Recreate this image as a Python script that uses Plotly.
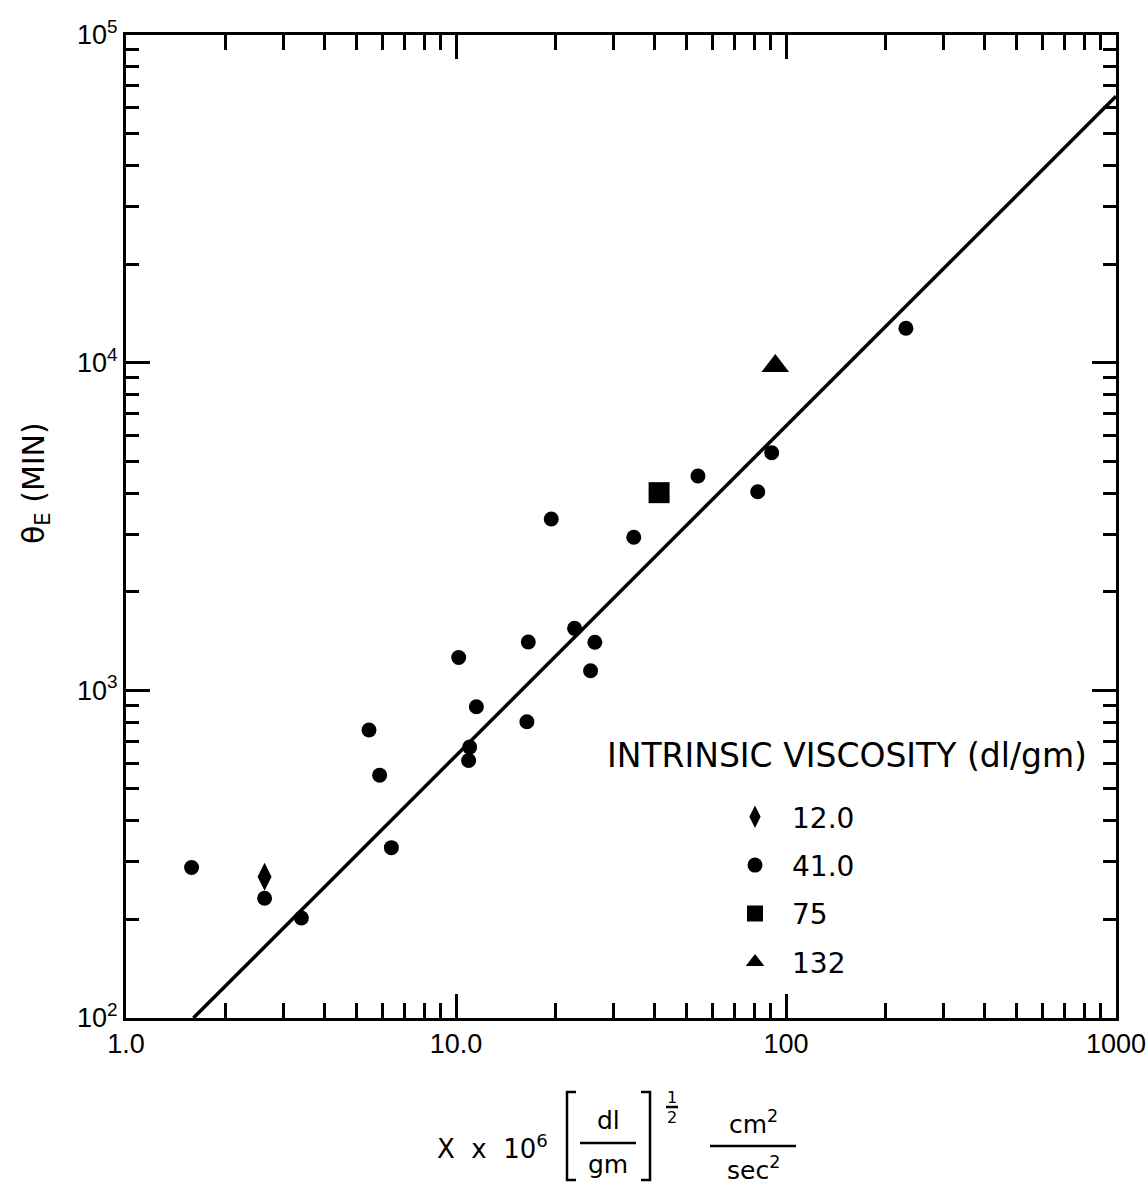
import plotly.graph_objects as go

# ---------------- data ----------------
diamond_x = [2.63]
diamond_y = [270]

circle_x = [1.58, 2.63, 3.40, 5.45, 5.87, 6.37, 10.19, 10.92, 11.0, 11.53, 16.4,
            16.56, 19.44, 22.87, 25.57, 26.35, 34.57, 54.1, 82.1, 90.5, 230.9]
circle_y = [288, 232, 202, 757, 551, 331, 1260, 611, 671, 891, 802,
            1404, 3334, 1546, 1148, 1402, 2932, 4510, 4038, 5312, 12730]

square_x = [41.25]
square_y = [4011]

triangle_x = [92.8]
triangle_y = [9767]

fit_x = [1.6, 1000]
fit_y = [100, 65000]

legend_names = ["12.0", "41.0", "75", "132"]
legend_title = "INTRINSIC VISCOSITY (dl/gm)"

x_tickvals = [1, 10, 100, 1000]
x_ticktext = ["1.0", "10.0", "100", "1000"]
y_tickvals = [100, 1000, 10000, 100000]
y_ticktext = ["10<sup>2</sup>", "10<sup>3</sup>", "10<sup>4</sup>", "10<sup>5</sup>"]
minor_x = [m * 10 ** d for d in range(0, 3) for m in range(2, 10)]
minor_y = [m * 10 ** d for d in range(2, 5) for m in range(2, 10)]

# ---------------- layout helpers ----------------
W, H = 1146, 1185
L, R, T, B = 126, 1116, 35, 1018
FONT = "DejaVu Sans"
TICKFONT = "Liberation Sans"


def px(x):
    return (x - L) / (R - L)


def py(y):
    return (B - y) / (B - T)


fig = go.Figure()

fig.add_trace(go.Scatter(x=fit_x, y=fit_y, mode="lines",
                         line=dict(color="black", width=3.5), showlegend=False))
fig.add_trace(go.Scatter(x=diamond_x, y=diamond_y, mode="markers", name=legend_names[0],
                         legendgroup="a",
                         marker=dict(symbol="diamond-tall", size=20, color="black")))
fig.add_trace(go.Scatter(x=circle_x, y=circle_y, mode="markers", name=legend_names[1],
                         legendgroup="b",
                         marker=dict(symbol="circle", size=15, color="black")))
fig.add_trace(go.Scatter(x=square_x, y=square_y, mode="markers", name=legend_names[2],
                         legendgroup="c",
                         marker=dict(symbol="square", size=21, color="black")))
fig.add_trace(go.Scatter(x=triangle_x, y=triangle_y, mode="markers", name=legend_names[3],
                         legendgroup="d",
                         marker=dict(symbol="triangle-up", size=24, color="black")))

axis_common = dict(
    type="log", showgrid=False, zeroline=False, automargin=False,
    showline=True, linecolor="black", linewidth=3, mirror="ticks",
    ticks="inside", ticklen=24, tickwidth=2.5, tickcolor="black",
    ticklabeloverflow="allow",
    tickfont=dict(family=TICKFONT, size=27, color="black"),
)

fig.update_xaxes(range=[0, 3], tickmode="array", tickvals=x_tickvals, ticktext=x_ticktext,
                 minor=dict(tickvals=minor_x, ticks="inside", ticklen=15, tickwidth=2.5,
                            tickcolor="black", showgrid=False),
                 **axis_common)
fig.update_yaxes(range=[2, 5], tickmode="array", tickvals=y_tickvals, ticktext=y_ticktext,
                 minor=dict(tickvals=minor_y, ticks="inside", ticklen=13, tickwidth=2.5,
                            tickcolor="black", showgrid=False),
                 **axis_common)

annotations = []


def ann(text, x, y, size=27, xanchor="center", angle=0, family=FONT):
    annotations.append(dict(text=text, x=px(x), y=py(y), xref="paper", yref="paper",
                            xanchor=xanchor, yanchor="middle", showarrow=False,
                            textangle=angle,
                            font=dict(family=family, size=size, color="black")))


# y axis title
ann("θ<sub>E</sub> (MIN)", 36, 483, size=30, angle=-90)
# legend title
ann(legend_title, 605, 755, size=33, xanchor="left")
# x axis title pieces
ann("X  x  10<sup>6</sup>", 550, 1147, size=26, xanchor="right")
ann("dl", 608, 1120, size=25)
ann("gm", 608, 1164, size=25)
ann("1", 672, 1097, size=16)
ann("2", 672, 1117, size=16)
ann("cm<sup>2</sup>", 753, 1122, size=25)
ann("sec<sup>2</sup>", 753, 1168, size=25)

shapes = []


def seg(path):
    shapes.append(dict(type="path", path=path, xref="paper", yref="paper",
                       line=dict(color="black", width=2.5)))


def P(x, y):
    return f"{px(x):.5f},{py(y):.5f}"


seg(f"M{P(576, 1092)} L{P(567, 1092)} L{P(567, 1180)} L{P(576, 1180)}")
seg(f"M{P(641, 1092)} L{P(650, 1092)} L{P(650, 1180)} L{P(641, 1180)}")
seg(f"M{P(580, 1143)} L{P(636, 1143)}")
seg(f"M{P(666, 1107)} L{P(678, 1107)}")
seg(f"M{P(710, 1146)} L{P(796, 1146)}")

fig.update_layout(
    width=W, height=H,
    margin=dict(l=L, r=W - R, t=T, b=H - B, pad=0, autoexpand=False),
    paper_bgcolor="white", plot_bgcolor="white",
    font=dict(family=FONT, color="black"),
    annotations=annotations, shapes=shapes,
    legend=dict(x=px(718), y=py(792), xanchor="left", yanchor="top",
                bgcolor="rgba(0,0,0,0)", font=dict(family=FONT, size=28, color="black"),
                tracegroupgap=9, itemsizing="trace", itemwidth=64),
    showlegend=True,
)

fig.write_html("out.html", config={"displayModeBar": False},
               post_script="document.body.style.margin='0';document.body.style.overflow='hidden';")
